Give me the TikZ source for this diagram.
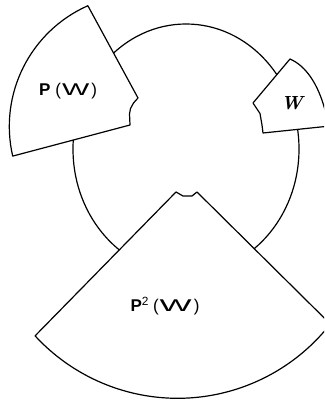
\documentclass[tikz,border=0pt]{standalone}
\usepackage{graphicx}
\usepackage{fontspec}
\setsansfont{Liberation Sans}
\begin{document}
\begin{tikzpicture}[x=1pt,y=-1pt,line width=1.2pt,line join=round,
  sectorshape/.style={draw=black,fill=white},
  lbl/.style={inner sep=0pt,font=\sffamily\fontsize{17}{17}\selectfont}]
\useasboundingbox (0,0) rectangle (324,401);
\begin{scope}
\clip (0,0) rectangle (324,401);
% the circle
\draw (186,149) ellipse [x radius=113, y radius=125];
% P(W) sector
\path[sectorshape] (88,6) -- (138,98) -- (133.5,103) -- (130.5,108.5) -- (129.5,114) -- (130,125)
  -- (12.7,156.1) arc[start angle=-193, end angle=-113.9, radius=132] -- cycle;
% W sector
\path[sectorshape] (253,103) -- (290,59) .. controls (306,66) and (318,84) .. (325,110)
  -- (330,126) -- (263,133) -- (262,125) -- (260,113.5) -- cycle;
% P^2(W) sector
\path[sectorshape] (176,192) -- (183,196) -- (192,196) -- (197,192) -- (330.3,324)
  arc[start angle=38.1, end angle=137.3, radius=194] -- cycle;
\end{scope}
\node[lbl] (lpw) at (68,91) {\textbf{P}\kern5pt(\kern1pt\scalebox{1.7}[1]{W}\kern2pt)};
\node[inner sep=0pt,font=\fontsize{19}{19}\selectfont\bfseries\itshape] (lw) at (292,103.5) {W};
\node[lbl] (lp2w) at (165,306) {\textbf{P}\textsuperscript{2}\kern4pt(\kern1pt\scalebox{2}[1]{W}\kern2pt)};
\end{tikzpicture}
\end{document}
